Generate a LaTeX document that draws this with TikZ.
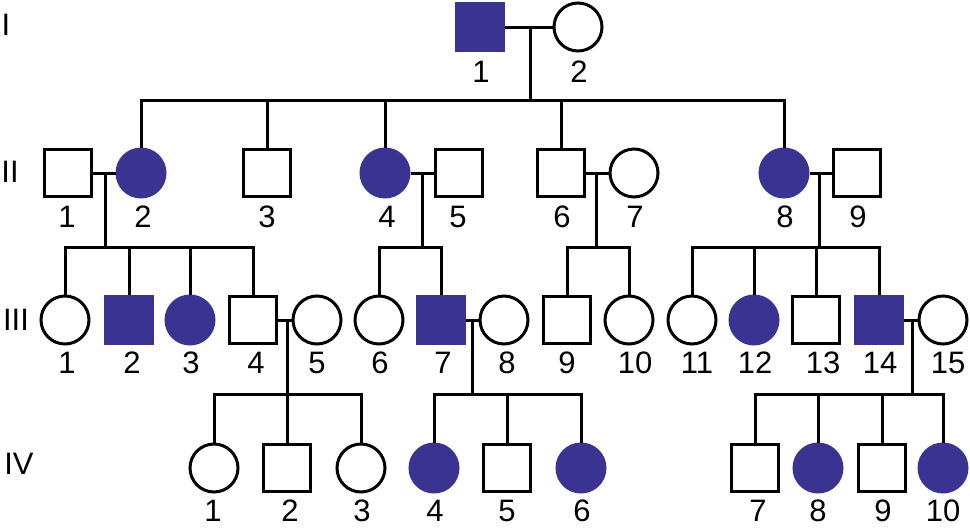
\documentclass[tikz,border=0pt]{standalone}
\usepackage{fontspec}
\setmainfont{Liberation Sans}
\definecolor{aff}{RGB}{59,51,145}
\tikzset{
 ln/.style={line width=3pt},
 sq/.style={draw=black, line width=3pt, rectangle, minimum size=47pt, inner sep=0pt, fill=white},
 ci/.style={draw=black, line width=3pt, circle, minimum size=48pt, inner sep=0pt, fill=white},
 sqa/.style={sq, fill=aff, draw=aff},
 cia/.style={ci, fill=aff, draw=aff},
 lab/.style={inner sep=0pt, font=\fontsize{31}{33}\selectfont},
}
\begin{document}
\begin{tikzpicture}[x=1pt,y=-1pt]
\useasboundingbox (0,0) rectangle (970,531);
% generation labels
\node[lab] (gI) at (6,25) {I};
\node[lab] (gII) at (10,172) {II};
\node[lab] (gIII) at (16,320) {III};
\node[lab] (gIV) at (19,464) {IV};
% Gen I
\node[sqa] (I1) at (480,27) {};
\node[ci] (I2) at (578,27) {};
% Gen II
\node[sq] (II1) at (68,173) {};
\node[cia] (II2) at (141,173) {};
\node[sq] (II3) at (267,173) {};
\node[cia] (II4) at (385,173) {};
\node[sq] (II5) at (459,173) {};
\node[sq] (II6) at (561,173) {};
\node[ci] (II7) at (634,173) {};
\node[cia] (II8) at (784,173) {};
\node[sq] (II9) at (857,173) {};
% Gen III
\node[ci] (III1) at (65,320) {};
\node[sqa] (III2) at (129,320) {};
\node[cia] (III3) at (190,320) {};
\node[sq] (III4) at (253,320) {};
\node[ci] (III5) at (317,320) {};
\node[ci] (III6) at (379,320) {};
\node[sqa] (III7) at (441,320) {};
\node[ci] (III8) at (504,320) {};
\node[sq] (III9) at (567,320) {};
\node[ci] (III10) at (629,320) {};
\node[ci] (III11) at (692,320) {};
\node[cia] (III12) at (754,320) {};
\node[sq] (III13) at (816,320) {};
\node[sqa] (III14) at (879,320) {};
\node[ci] (III15) at (943,320) {};
% Gen IV
\node[ci] (IV1) at (214,468) {};
\node[sq] (IV2) at (287,468) {};
\node[ci] (IV3) at (361,468) {};
\node[cia] (IV4) at (434,468) {};
\node[sq] (IV5) at (507,468) {};
\node[cia] (IV6) at (581,468) {};
\node[sq] (IV7) at (755,468) {};
\node[cia] (IV8) at (818,468) {};
\node[sq] (IV9) at (882,468) {};
\node[cia] (IV10) at (943,468) {};
% coordinates
\coordinate (m1) at (530,27);  \coordinate (s1) at (530,100);
\coordinate (m2) at (105,173); \coordinate (s2) at (105,247);
\coordinate (m3) at (422,173); \coordinate (s3) at (422,247);
\coordinate (m4) at (596,173); \coordinate (s4) at (596,247);
\coordinate (m5) at (819,173); \coordinate (s5) at (819,247);
\coordinate (m6) at (287,320); \coordinate (s6) at (287,394);
\coordinate (m7) at (472,320); \coordinate (s7) at (472,394);
\coordinate (m8) at (912,320); \coordinate (s8) at (912,394);
% connectors
\draw[ln] (I1) -- (I2);
\draw[ln] (m1) -- (s1);
\draw[ln] (II2.north) |- (s1) -| (II8.north);
\draw[ln] (II3.north) -- (II3.north |- s1);
\draw[ln] (II4.north) -- (II4.north |- s1);
\draw[ln] (II6.north) -- (II6.north |- s1);
\draw[ln] (II1) -- (II2);
\draw[ln] (m2) -- (s2);
\draw[ln] (III1.north) |- (s2) -| (III4.north);
\draw[ln] (III2.north) -- (III2.north |- s2);
\draw[ln] (III3.north) -- (III3.north |- s2);
\draw[ln] (II4) -- (II5);
\draw[ln] (m3) -- (s3);
\draw[ln] (III6.north) |- (s3) -| (III7.north);
\draw[ln] (II6) -- (II7);
\draw[ln] (m4) -- (s4);
\draw[ln] (III9.north) |- (s4) -| (III10.north);
\draw[ln] (II8) -- (II9);
\draw[ln] (m5) -- (s5);
\draw[ln] (III11.north) |- (s5) -| (III14.north);
\draw[ln] (III12.north) -- (III12.north |- s5);
\draw[ln] (III13.north) -- (III13.north |- s5);
\draw[ln] (III4) -- (III5);
\draw[ln] (m6) -- (s6);
\draw[ln] (IV1.north) |- (s6) -| (IV3.north);
\draw[ln] (IV2.north) -- (IV2.north |- s6);
\draw[ln] (III7) -- (III8);
\draw[ln] (m7) -- (s7);
\draw[ln] (IV4.north) |- (s7) -| (IV6.north);
\draw[ln] (IV5.north) -- (IV5.north |- s7);
\draw[ln] (III14) -- (III15);
\draw[ln] (m8) -- (s8);
\draw[ln] (IV7.north) |- (s8) -| (IV10.north);
\draw[ln] (IV8.north) -- (IV8.north |- s8);
\draw[ln] (IV9.north) -- (IV9.north |- s8);
% number labels
\node[lab] (lI1) at (481,72) {1};
\node[lab] (lI2) at (579,72) {2};
\node[lab] (lII1) at (67,217) {1};
\node[lab] (lII2) at (143,217) {2};
\node[lab] (lII3) at (267,217) {3};
\node[lab] (lII4) at (387,217) {4};
\node[lab] (lII5) at (458,217) {5};
\node[lab] (lII6) at (562,217) {6};
\node[lab] (lII7) at (635,217) {7};
\node[lab] (lII8) at (785,217) {8};
\node[lab] (lII9) at (858,217) {9};
\node[lab] (lIII1) at (67,363) {1};
\node[lab] (lIII2) at (132,363) {2};
\node[lab] (lIII3) at (191,363) {3};
\node[lab] (lIII4) at (256,363) {4};
\node[lab] (lIII5) at (317,363) {5};
\node[lab] (lIII6) at (380,363) {6};
\node[lab] (lIII7) at (443,363) {7};
\node[lab] (lIII8) at (507,363) {8};
\node[lab] (lIII9) at (567,363) {9};
\node[lab] (lIII10) at (635,363) {10};
\node[lab] (lIII11) at (697,363) {11};
\node[lab] (lIII12) at (755,363) {12};
\node[lab] (lIII13) at (823,363) {13};
\node[lab] (lIII14) at (880,363) {14};
\node[lab] (lIII15) at (948,363) {15};
\node[lab] (lIV1) at (213,511) {1};
\node[lab] (lIV2) at (290,511) {2};
\node[lab] (lIV3) at (362,511) {3};
\node[lab] (lIV4) at (435,511) {4};
\node[lab] (lIV5) at (507,511) {5};
\node[lab] (lIV6) at (582,511) {6};
\node[lab] (lIV7) at (758,511) {7};
\node[lab] (lIV8) at (818,511) {8};
\node[lab] (lIV9) at (883,511) {9};
\node[lab] (lIV10) at (943,511) {10};
\end{tikzpicture}
\end{document}
